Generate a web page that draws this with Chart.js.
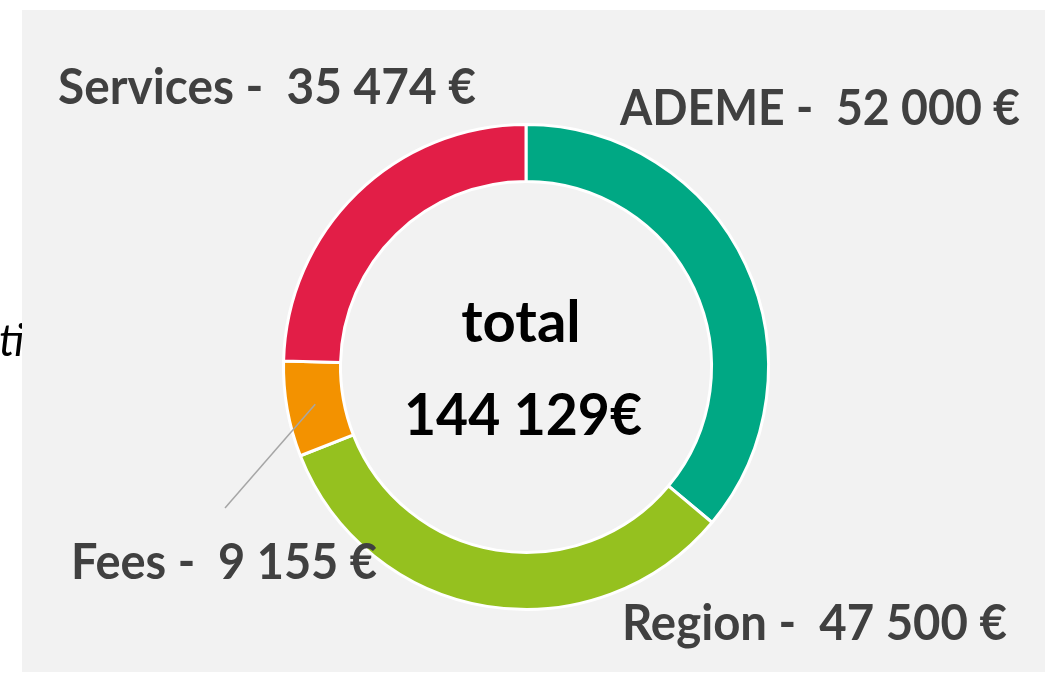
<!DOCTYPE html>
<html>
<head>
<meta charset="utf-8">
<script src="https://cdn.jsdelivr.net/npm/chart.js@4.4.0/dist/chart.umd.min.js"></script>
<style>
  html, body { margin: 0; padding: 0; background: #ffffff; }
  #wrap { width: 1045px; height: 675px; position: relative; }
</style>
</head>
<body>
<div id="wrap"><canvas id="chart" width="1045" height="675"></canvas></div>
<script>
// data
var categories = ['ADEME', 'Region', 'Fees', 'Services'];
var amounts = [52000, 47500, 9155, 35474];
var amountLabels = ['52 000 €', '47 500 €', '9 155 €', '35 474 €'];
var totalLabel = '144 129€';

var colors = ['#00A884', '#95C11F', '#F39200', '#E21E47'];

// where each label sits (left x, baseline y, width of the text)
var labelPos = [
  {x: 620, y: 125, w: 400},
  {x: 622, y: 640, w: 385},
  {x: 71, y: 579, w: 306},
  {x: 58, y: 104, w: 418}
];

var FONT = 'Lato, "Open Sans", sans-serif';

var backdrop = {
  id: 'backdrop',
  beforeDraw: function(chart) {
    var ctx = chart.ctx;
    ctx.save();
    ctx.fillStyle = '#ffffff';
    ctx.fillRect(0, 0, chart.width, chart.height);
    // cut-off italic text behind the panel
    ctx.fillStyle = '#000000';
    ctx.font = 'italic 44px ' + FONT;
    ctx.textBaseline = 'alphabetic';
    ctx.fillText('tion', -1, 356);
    ctx.fillStyle = '#F2F2F2';
    ctx.fillRect(22, 10, chart.width - 22, 662);
    ctx.restore();
  }
};

var labels = {
  id: 'labels',
  afterDraw: function(chart) {
    var ctx = chart.ctx;
    var meta = chart.getDatasetMeta(0);
    ctx.save();

    // leader line for the small slice
    var p = meta.data[2].tooltipPosition();
    ctx.strokeStyle = '#A6A6A6';
    ctx.lineWidth = 1.5;
    ctx.beginPath();
    ctx.moveTo(p.x, p.y);
    ctx.lineTo(225, 508);
    ctx.stroke();

    ctx.fillStyle = '#404040';
    ctx.font = 'bold 49px ' + FONT;
    ctx.textAlign = 'left';
    ctx.textBaseline = 'alphabetic';
    for (var i = 0; i < categories.length; i++) {
      var t = categories[i] + ' -  ' + amountLabels[i];
      ctx.fillText(t, labelPos[i].x, labelPos[i].y, labelPos[i].w);
    }

    // centre text
    var cx = (chart.chartArea.left + chart.chartArea.right) / 2;
    ctx.fillStyle = '#000000';
    ctx.textAlign = 'center';
    ctx.font = 'bold 58px ' + FONT;
    ctx.fillText('total', cx - 5, 342, 122);
    ctx.fillText(totalLabel, cx - 3, 435, 238);
    ctx.restore();
  }
};

var ctx = document.getElementById('chart').getContext('2d');
new Chart(ctx, {
  type: 'doughnut',
  data: {
    labels: categories,
    datasets: [{
      data: amounts,
      backgroundColor: colors,
      borderColor: '#ffffff',
      borderWidth: 3
    }]
  },
  options: {
    responsive: false,
    animation: false,
    cutout: '76.5%',
    layout: { padding: { left: 282, right: 275, top: 123, bottom: 64 } },
    plugins: {
      legend: { display: false },
      tooltip: { enabled: false }
    }
  },
  plugins: [backdrop, labels]
});
</script>
</body>
</html>
